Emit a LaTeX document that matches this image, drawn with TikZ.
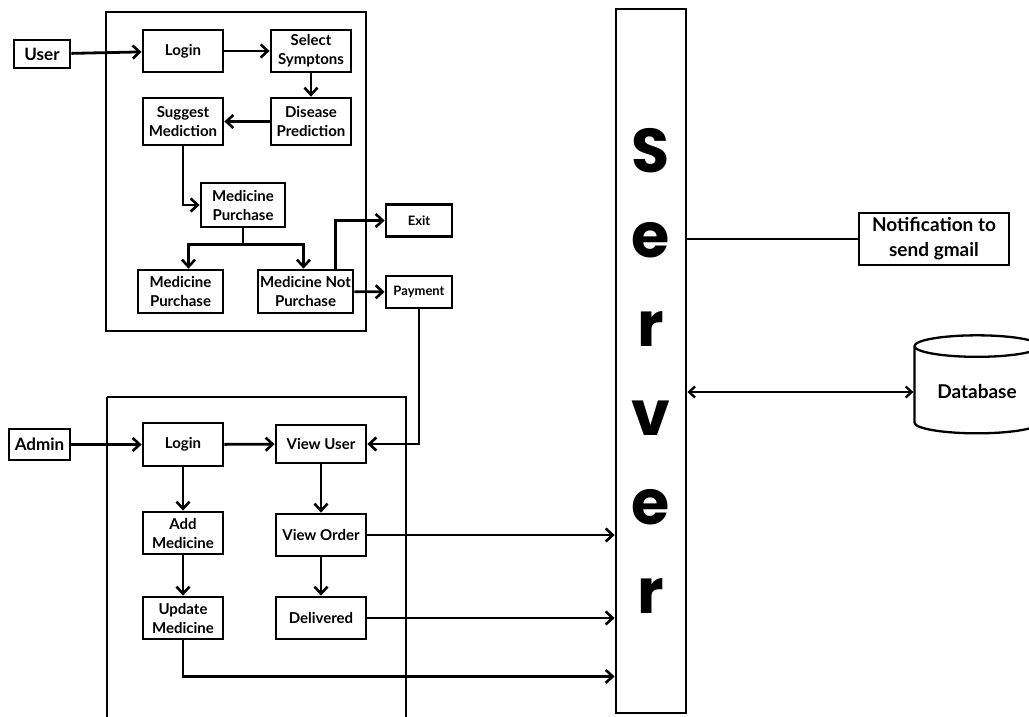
\documentclass[tikz,border=0pt]{standalone}
\usepackage{fontspec}
\setmainfont{Lato}
\newfontfamily\srvfont{Poppins}
\usepackage{tikz}
\usetikzlibrary{arrows.meta,positioning,calc,shapes.geometric}

\begin{document}
\begin{tikzpicture}[
    x=1pt,y=-1pt,
    font=\fontsize{15}{19}\selectfont\bfseries,
    box/.style={draw,line width=2.8pt,align=center,inner sep=1pt,minimum width=80pt,minimum height=42pt},
    small/.style={box,font=\fontsize{13}{16}\selectfont\bfseries,minimum width=66pt,minimum height=32pt},
    actor/.style={box,font=\fontsize{17}{20}\selectfont\bfseries,minimum width=56pt,minimum height=28pt},
    panel/.style={draw,line width=2.8pt},
    arr/.style={-{Straight Barb[length=7pt,width=13pt,line width=2.6pt]},line width=2.8pt},
    link/.style={line width=2.3pt}
  ]
    \useasboundingbox (0,0) rectangle (1029,716);
    \clip (0,0) rectangle (1029,716);
    % user side
    \draw[panel] (106,12) rectangle (366,331);
    \node[actor] (user) at (42,54) {User};
    \node[box] (uLogin) at (183,51) {Login};
    \node[box] (uSelect) at (311,51) {Select\\Symptons};
    \node[box,minimum height=47pt] (uDisease) at (311,121.5) {Disease\\Prediction};
    \node[box,minimum height=47pt] (uSuggest) at (183,121.5) {Suggest\\Mediction};
    \node[box,minimum width=84pt,minimum height=44pt] (uPurch) at (243,205) {Medicine\\Purchase};
    \node[box,minimum width=85pt,minimum height=43pt] (uBought) at (180.5,291.5) {Medicine\\Purchase};
    \node[box,minimum width=95pt,minimum height=43pt] (uNot) at (305.5,291.5) {Medicine Not\\Purchase};
    \node[small] (exitb) at (419,220.5) {Exit};
    \node[small] (payb) at (419,292) {Payment};
    \foreach \a/\b in {user/uLogin,uLogin/uSelect,uSelect/uDisease,uDisease/uSuggest,uNot/payb}
      \draw[arr] (\a) -- (\b);
    \draw[arr] (uSuggest.south) |- (uPurch.west);
    \draw[line width=2.8pt] (uPurch.south) -- ++(0,16) coordinate (split);
    \draw[arr] (split) -| ([xshift=8pt]uBought.north);
    \draw[arr] (split) -| ([xshift=-2pt]uNot.north);
    \draw[arr] ([xshift=30pt]uNot.north) |- (exitb.west);
    % admin side
    \draw[panel] (107,397) -- (107,720) (406,720) -- (406,397) -- (107,397);
    \node[actor,minimum width=61pt,minimum height=31pt] (admin) at (39.5,444.5) {Admin};
    \node[box,minimum height=43pt] (aLogin) at (183,444.5) {Login};
    \node[box,minimum width=90pt,minimum height=38pt] (aViewUser) at (321,444) {View User};
    \node[box] (aAdd) at (183,533) {Add\\Medicine};
    \node[box,minimum width=90pt] (aViewOrder) at (321,535) {View Order};
    \node[box] (aUpdate) at (183,618) {Update\\Medicine};
    \node[box,minimum width=90pt] (aDeliv) at (321,618) {Delivered};
    \foreach \a/\b in {admin/aLogin,aLogin/aViewUser,aLogin/aAdd,aAdd/aUpdate,aViewUser/aViewOrder,aViewOrder/aDeliv}
      \draw[arr] (\a) -- (\b);
    \draw[arr] (payb.south) |- (aViewUser.east);
    % server
    \node[draw,line width=2.8pt,minimum width=70pt,minimum height=704pt,inner sep=0pt] (server) at (651,361) {};
    \foreach \ch/\yy [count=\i] in {S/151,e/240,r/329,v/418,e/507,r/596}
      \node[font=\srvfont\fontsize{62}{62}\selectfont\bfseries] (srv\i) at (651,\yy) {\ch};
    \draw[arr] (aViewOrder.east) -- (aViewOrder.east -| server.west);
    \draw[arr] (aDeliv.east) -- (aDeliv.east -| server.west);
    \draw[arr] (aUpdate.south) -- ++(0,36) coordinate (bend) -- (bend -| server.west);
    % outside
    \node[box,line width=2.4pt,font=\fontsize{19}{25}\selectfont\bfseries,minimum width=150pt,minimum height=52pt] (notif) at (934,239) {Notification to\\send gmail};
    \node[draw,line width=2.3pt,cylinder,shape border rotate=90,aspect=0.25,minimum width=125pt,minimum height=98pt,
      font=\fontsize{19}{23}\selectfont\bfseries] (db) at (977,392) {Database};
    \draw[link] (notif.west -| server.east) -- (notif.west);
    \draw[{Straight Barb[length=6pt,width=11pt]}-{Straight Barb[length=6pt,width=11pt]},link] (db.west -| server.east) -- (db.west);
  \end{tikzpicture}
\end{document}
